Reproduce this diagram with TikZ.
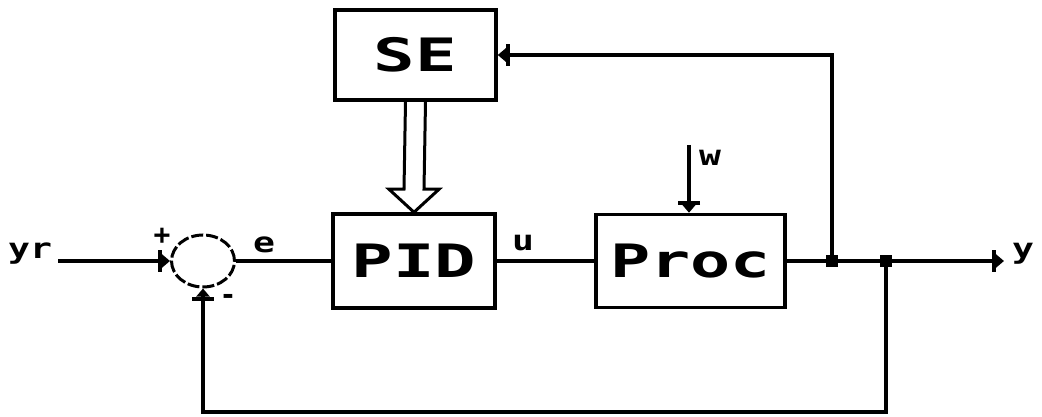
\documentclass[tikz,border=0pt]{standalone}
\usepackage{fontspec}
\setmonofont{DejaVu Sans Mono}
\usetikzlibrary{arrows.meta,shapes.geometric,calc}
\begin{document}
\begin{tikzpicture}[x=1pt,y=-1pt,
  blk/.style={draw,line width=3.5pt,inner sep=0pt,font=\ttfamily\bfseries\fontsize{46}{46}\selectfont},
  lbl/.style={inner sep=0pt,font=\ttfamily\bfseries\fontsize{28}{28}\selectfont},
  wire/.style={line width=3.5pt},
  arr/.style={wire,-{Bar[width=22pt,line width=4pt,sep=0pt] Triangle[length=8pt,width=13pt]}},
  jdot/.style={fill=black,minimum size=12pt,inner sep=0pt}]
\fill[white] (0,0) rectangle (1042,417);
\useasboundingbox (0,0) rectangle (1042,417);
\node[blk,minimum width=161pt,minimum height=90pt] (SE) at (415.5,55) {\scalebox{1.5}[1]{SE}};
\node[blk,minimum width=162pt,minimum height=94pt] (PID) at (414,261) {\scalebox{1.5}[1]{PID}};
\node[blk,minimum width=189pt,minimum height=93pt] (Proc) at (690.5,261) {\scalebox{1.45}[1]{Proc}};
\node[draw,ellipse,line width=3pt,dash pattern=on 12pt off 3pt,minimum width=63pt,minimum height=52pt,inner sep=0pt] (sum) at (203,261) {};
\node[jdot] (J1) at (832,261) {};
\node[jdot] (J2) at (886,261) {};
\node[lbl,anchor=base west] (yr) at (8,258) {\scalebox{1.3}[1]{yr}};
\node[lbl] (e) at (264,245) {\scalebox{1.3}[1]{e}};
\node[lbl] (u) at (523,243) {\scalebox{1.3}[1]{u}};
\node[lbl] (w) at (710,158) {\scalebox{1.3}[1]{w}};
\node[lbl,anchor=base west] (y) at (1012,258) {\scalebox{1.3}[1]{y}};
\node[lbl] (plus) at (162,236) {+};
\node[lbl] (minus) at (228,299) {-};
\coordinate (win) at (689,145);
\coordinate (bot) at (886,412);
% connectors
\draw[arr] (yr.east |- sum.west) ++(6,0) -- (sum.west);
\draw[wire] (sum.east) -- (PID.west);
\draw[wire] (PID.east) -- (Proc.west);
\draw[arr] (win) -- (Proc.north -| win);
\draw[wire] (Proc.east) -- (J1) -- (J2);
\draw[arr] (J2) -- ([xshift=-8pt]y.west |- J2);
\draw[arr] (J1) |- (SE.east);
\draw[arr] (J2) -- (bot) -| (sum.south);
% double arrow SE -> PID
\draw[line width=3pt,line join=miter]
  ([xshift=-10pt]SE.south) -- ([xshift=-10pt,yshift=23pt]PID.north)
  -- ([xshift=-25pt,yshift=23pt]PID.north) -- (PID.north)
  -- ([xshift=25pt,yshift=23pt]PID.north) -- ([xshift=10pt,yshift=23pt]PID.north)
  -- ([xshift=10pt]SE.south);
\end{tikzpicture}
\end{document}
